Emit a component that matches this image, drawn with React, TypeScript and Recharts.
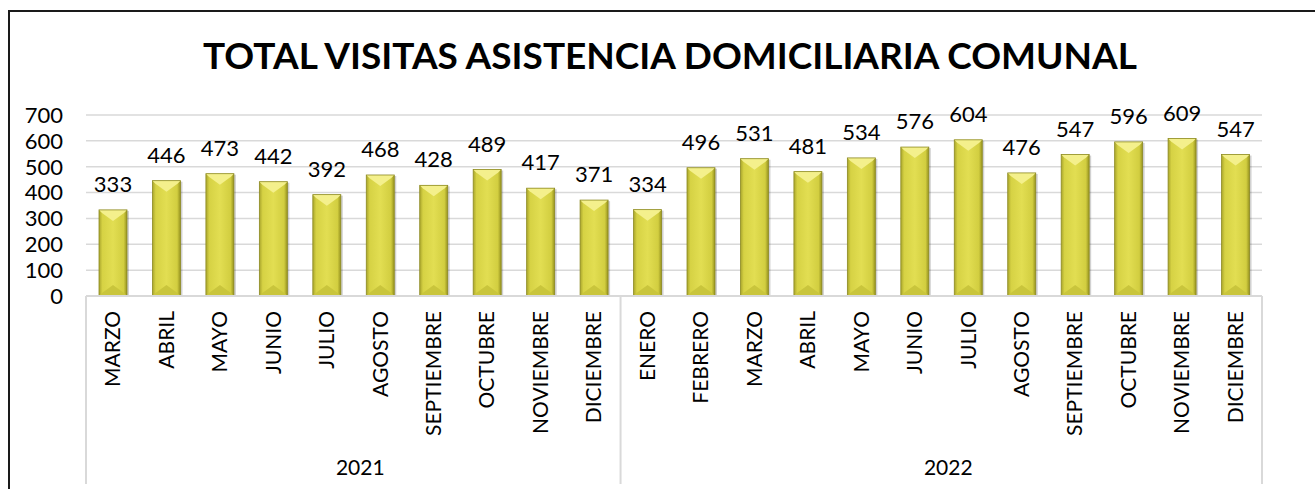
import { BarChart, Bar, XAxis, YAxis, CartesianGrid, LabelList } from "recharts";

const months2021 = ["MARZO", "ABRIL", "MAYO", "JUNIO", "JULIO", "AGOSTO", "SEPTIEMBRE", "OCTUBRE", "NOVIEMBRE", "DICIEMBRE"];
const visits2021 = [333, 446, 473, 442, 392, 468, 428, 489, 417, 371];
const months2022 = ["ENERO", "FEBRERO", "MARZO", "ABRIL", "MAYO", "JUNIO", "JULIO", "AGOSTO", "SEPTIEMBRE", "OCTUBRE", "NOVIEMBRE", "DICIEMBRE"];
const visits2022 = [334, 496, 531, 481, 534, 576, 604, 476, 547, 596, 609, 547];
const years = ["2021", "2022"];
const yTicks = [0, 100, 200, 300, 400, 500, 600, 700];
const title = "TOTAL VISITAS ASISTENCIA DOMICILIARIA COMUNAL";

const data = [
  ...months2021.map((month, i) => ({ key: `${years[0]}-${month}`, month, year: years[0], visits: visits2021[i] })),
  ...months2022.map((month, i) => ({ key: `${years[1]}-${month}`, month, year: years[1], visits: visits2022[i] })),
];

const W = 1315;
const H = 489;
const PLOT_LEFT = 86;
const PLOT_RIGHT = 1262;
const AXIS_Y = 296;
const FONT = "Lato, 'Noto Sans', sans-serif";
const GRID = "#d9d9d9";

// first / last index of each year group, and the group middle
const groupStarts = [0, months2021.length];
const lastIndex = data.length - 1;

function MonthTick(props: any) {
  const { x, y, payload } = props;
  const index: number = props.index ?? payload.index;
  const band = (PLOT_RIGHT - PLOT_LEFT) / data.length;
  const half = payload.offset || band / 2;
  const entry = data[index];
  const lines = [];
  if (groupStarts.includes(index)) lines.push(x - half);
  if (index === lastIndex) lines.push(x + half);
  const groupSize = entry.year === years[0] ? months2021.length : months2022.length;
  const groupStart = entry.year === years[0] ? 0 : months2021.length;
  const midLeft = groupStart + groupSize / 2 - 1;
  return (
    <g>
      {lines.map((lx) => (
        <line key={lx} x1={lx} x2={lx} y1={AXIS_Y} y2={484} stroke={GRID} strokeWidth={2} />
      ))}
      <text
        x={x}
        y={y}
        transform={`rotate(-90, ${x}, ${y})`}
        textAnchor="end"
        dy="0.36em"
        fontFamily={FONT}
        fontSize={21}
        fill="#000"
      >
        {entry.month}
      </text>
      {index === midLeft && (
        <text x={x + half + 7} y={475} textAnchor="middle" fontFamily={FONT} fontSize={21} fill="#000">
          {entry.year}
        </text>
      )}
    </g>
  );
}

function BevelBar(props: any) {
  const { x, y, width, height } = props;
  if (!height || height <= 0) return null;
  const b = Math.min(11, width * 0.4);
  return (
    <g>
      <rect x={x + 2} y={y + 1} width={width} height={height} fill="rgba(0,0,0,0.18)" />
      <rect x={x} y={y} width={width} height={height} fill="url(#barBody)" />
      <polygon points={`${x},${y} ${x + width},${y} ${x + width - 3},${y + 3} ${x + width / 2},${y + b} ${x + 3},${y + 3}`} fill="#f4f08c" />
      <polygon points={`${x},${y + height} ${x + width},${y + height} ${x + width - 3},${y + height - 3} ${x + width / 2},${y + height - b} ${x + 3},${y + height - 3}`} fill="#c9c53c" />
      <rect x={x} y={y} width={width} height={height} fill="none" stroke="#8d8a22" strokeWidth={0.8} />
    </g>
  );
}

export default function App() {
  return (
    <div style={{ position: "absolute", left: 0, top: 0, width: W, height: H, background: "#fff" }}>
      <BarChart width={W} height={H} data={data} margin={{ top: 115, right: W - PLOT_RIGHT, bottom: 0, left: 0 }} barSize={28}>
        <defs>
          <linearGradient id="barBody" x1="0" x2="1" y1="0" y2="0">
            <stop offset="0%" stopColor="#a9a52c" />
            <stop offset="12%" stopColor="#d6d244" />
            <stop offset="50%" stopColor="#e2de52" />
            <stop offset="88%" stopColor="#d2ce40" />
            <stop offset="100%" stopColor="#96921f" />
          </linearGradient>
        </defs>
        <CartesianGrid vertical={false} stroke={GRID} strokeWidth={1.5} />
        <XAxis
          dataKey="key"
          height={H - AXIS_Y}
          interval={0}
          tickLine={false}
          tickMargin={9}
          axisLine={{ stroke: GRID, strokeWidth: 2 }}
          tick={<MonthTick />}
        />
        <YAxis
          width={PLOT_LEFT}
          domain={[0, 700]}
          ticks={yTicks}
          interval={0}
          axisLine={false}
          tickLine={false}
          tickMargin={17}
          tick={{ fontSize: 22, fill: "#000", fontFamily: FONT }}
        />
        <Bar dataKey="visits" shape={<BevelBar />} isAnimationActive={false}>
          <LabelList dataKey="visits" position="top" offset={18} fontSize={22} fill="#000" fontFamily={FONT} />
        </Bar>
      </BarChart>
      <svg width={W} height={H} style={{ position: "absolute", left: 0, top: 0, pointerEvents: "none" }}>
        <line x1={9} x2={W} y1={11} y2={11} stroke="#1a1a1a" strokeWidth={2} />
        <line x1={9} x2={9} y1={10} y2={H} stroke="#1a1a1a" strokeWidth={2} />
        <text x={670} y={69} textAnchor="middle" fontFamily={FONT} fontWeight="bold" fontSize={37} fill="#000">
          {title}
        </text>
      </svg>
    </div>
  );
}
